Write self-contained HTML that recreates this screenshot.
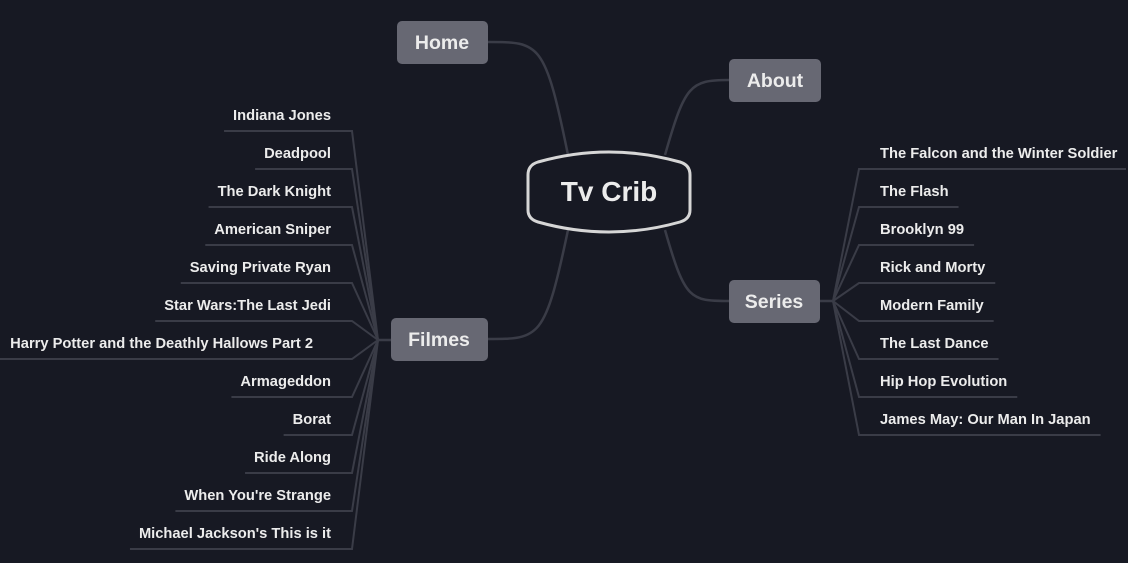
<!DOCTYPE html>
<html><head><meta charset="utf-8"><style>
html,body{margin:0;padding:0;background:#171923;}
svg{display:block}
text{font-family:"Liberation Sans",sans-serif;font-weight:bold;fill:#ececec}
.it{font-size:14.7px}
.ln{stroke:#3a3c47;stroke-width:2;fill:none}
</style></head><body>
<svg id="s" width="1128" height="563" viewBox="0 0 1128 563">
<rect width="1128" height="563" fill="#171923"/>
<g class="ln" id="lines" style="stroke:#3a3c47;stroke-width:2.5;fill:none">
<path d="M488,42 C540,42 545,42 568,155"/>
<path d="M729,80 C690,80 685,85 665,155"/>
<path d="M488,339 C540,339 545,339 568,230"/>
<path d="M729,301 C690,301 685,300 665,230"/>
<path d="M820,301 L833,301"/>
<path d="M378,340 L391,340"/>
</g>
<g id="items"></g>
<rect x="397" y="21" width="91" height="43" rx="5" fill="#676873"/>
<text x="442" y="49" text-anchor="middle" font-size="19.5">Home</text>
<rect x="729" y="59" width="92" height="43" rx="5" fill="#676873"/>
<text x="775" y="87" text-anchor="middle" font-size="19.5">About</text>
<rect x="391" y="318" width="97" height="43" rx="5" fill="#676873"/>
<text x="439" y="346" text-anchor="middle" font-size="19.5">Filmes</text>
<rect x="729" y="280" width="91" height="43" rx="5" fill="#676873"/>
<text x="774" y="308" text-anchor="middle" font-size="19.5">Series</text>
<path d="M538,162 Q609,142 680,162 Q690,165 690,175 L690,210 Q690,219 680,222 Q609,242 538,222 Q528,219 528,210 L528,175 Q528,165 538,162 Z" fill="#171923" stroke="#d6d6d6" stroke-width="3"/>
<text x="609" y="201" text-anchor="middle" font-size="28">Tv Crib</text>
</svg>
<script>
var NS="http://www.w3.org/2000/svg",g=document.getElementById('items');
function el(t,a,txt){var e=document.createElementNS(NS,t);for(var k in a)e.setAttribute(k,a[k]);if(txt)e.textContent=txt;g.appendChild(e);return e;}
var L=["Indiana Jones","Deadpool","The Dark Knight","American Sniper","Saving Private Ryan","Star Wars:The Last Jedi","Harry Potter and the Deathly Hallows Part 2","Armageddon","Borat","Ride Along","When You're Strange","Michael Jackson's This is it"];
L.forEach(function(s,i){var y=114+38*i;var xe=(i==6)?313:331;var t=el('text',{x:xe,y:y+6,'text-anchor':'end','class':'it'},s);var w=t.getComputedTextLength();var u=y+17;
var x0=(i==6)?0:Math.max(0,xe-w-9);
el('path',{d:'M'+x0+','+u+' L352,'+u+' L378,340','class':'ln'});});
var R=["The Falcon and the Winter Soldier","The Flash","Brooklyn 99","Rick and Morty","Modern Family","The Last Dance","Hip Hop Evolution","James May: Our Man In Japan"];
R.forEach(function(s,i){var y=152+38*i;var t=el('text',{x:880,y:y+6,'class':'it'},s);var w=t.getComputedTextLength();var u=y+17;
el('path',{d:'M833,301 L859,'+u+' L'+Math.min(1126,880+w+10)+','+u,'class':'ln'});});
</script>
</body></html>
